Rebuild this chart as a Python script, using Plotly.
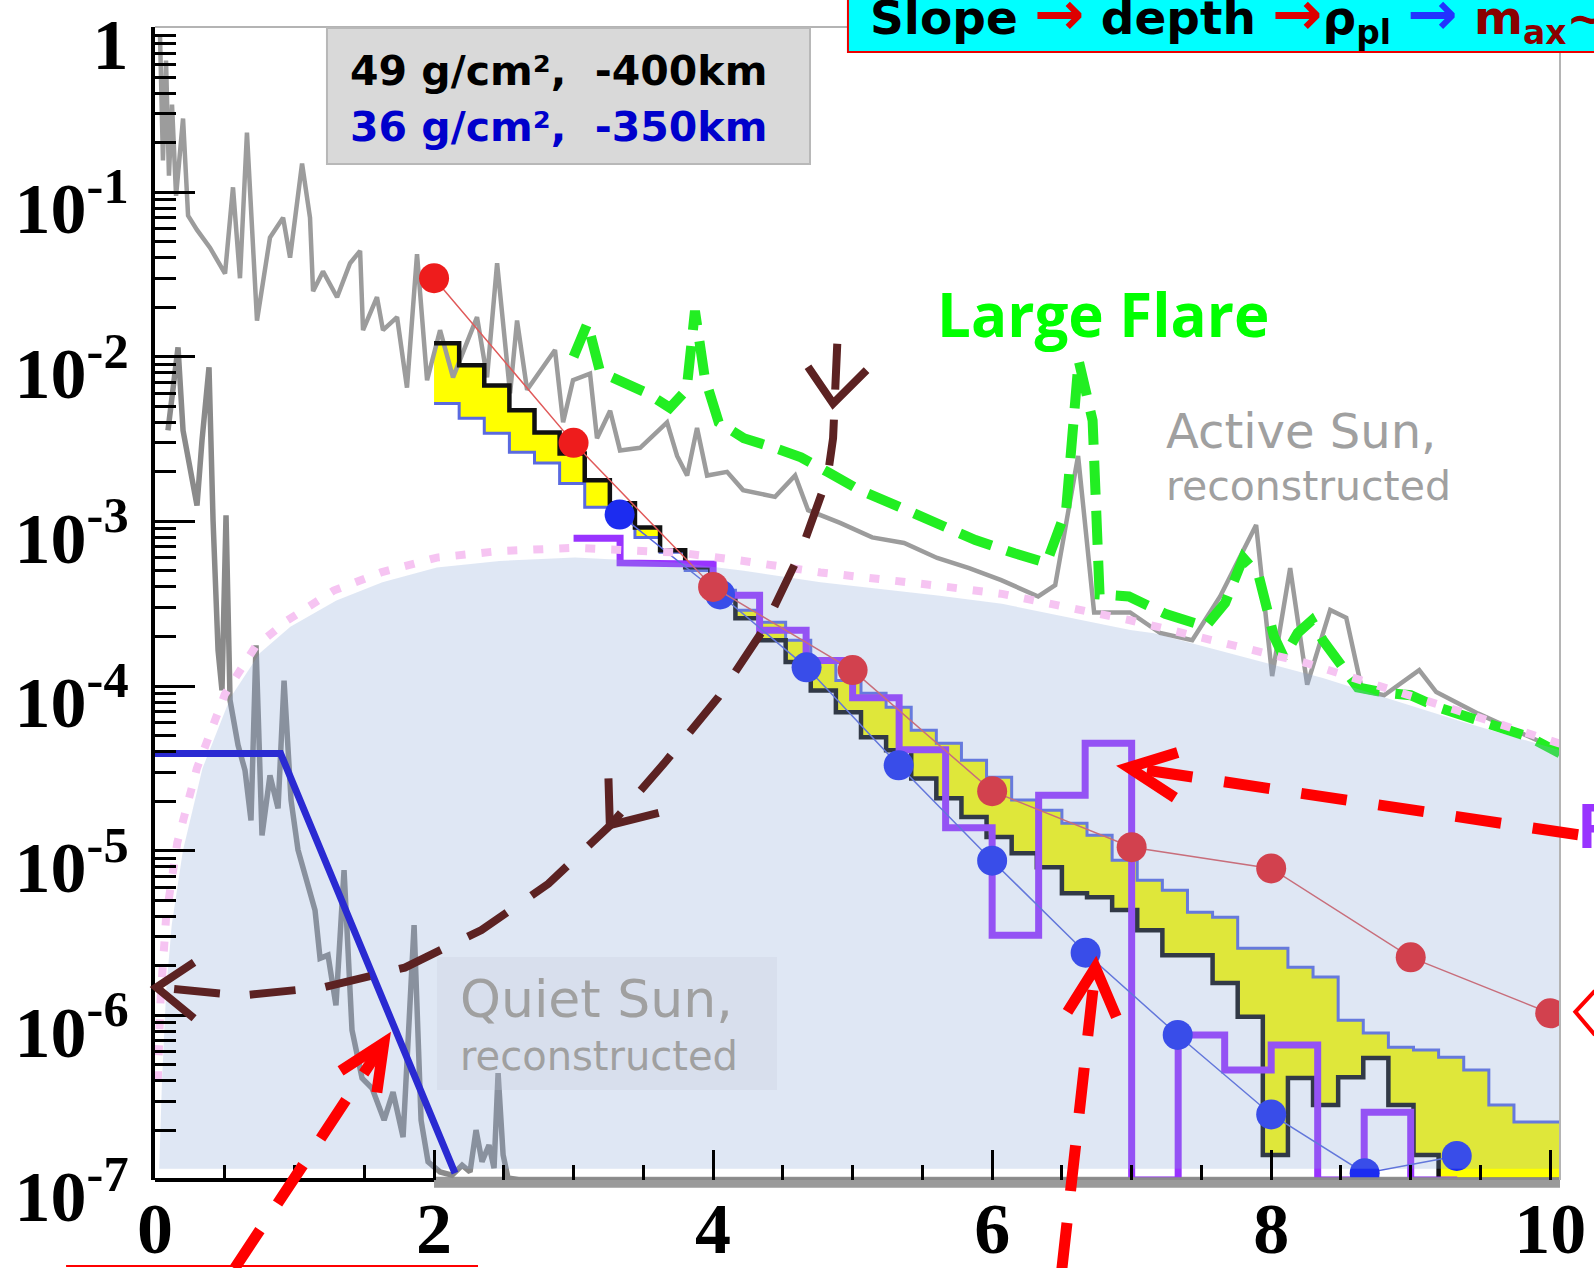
import numpy as np
import plotly.graph_objects as go

# ---------------- axis extents ----------------
X_RANGE = [0.0, 10.07]
Y_RANGE = [-7.0, 0.003]        # log10 of the y range

# ---------------- Active Sun, reconstructed (upper grey spectrum) ----------------
active_x = [0.036, 0.057, 0.079, 0.100, 0.122, 0.151, 0.201, 0.237, 0.301, 0.394,
            0.502, 0.559, 0.609, 0.659, 0.731, 0.824, 0.918, 0.968, 1.054, 1.111,
            1.133, 1.204, 1.305, 1.398, 1.470, 1.491, 1.591, 1.634, 1.735, 1.806,
            1.878, 1.950, 2.043, 2.136, 2.308, 2.380, 2.452, 2.545, 2.595, 2.667,
            2.867, 2.925, 2.996, 3.118, 3.168, 3.262, 3.333, 3.477, 3.670, 3.742,
            3.814, 3.885, 3.957, 4.100, 4.215, 4.444, 4.588, 4.681, 4.910, 5.140,
            5.369, 5.606, 5.835, 6.065, 6.330, 6.452, 6.616, 6.731, 6.989, 7.204,
            7.434, 7.634, 7.892, 8.007, 8.136, 8.258, 8.423, 8.538, 8.652, 8.810,
            9.061, 9.183, 9.484, 9.778, 10.057]
active_y = [0.89, 0.156, 0.63, 0.126, 0.34, 0.095, 0.28, 0.072, 0.059, 0.046,
            0.032, 0.107, 0.030, 0.23, 0.0166, 0.053, 0.070, 0.040, 0.149, 0.070,
            0.025, 0.033, 0.023, 0.037, 0.044, 0.0145, 0.023, 0.0145, 0.0174, 0.0065,
            0.042, 0.0072, 0.0145, 0.0075, 0.0174, 0.0075, 0.037, 0.0060, 0.0166, 0.0063,
            0.011, 0.0040, 0.0072, 0.0079, 0.0032, 0.0047, 0.0027, 0.0028, 0.0040, 0.0025,
            0.0019, 0.0037, 0.0019, 0.0020, 0.00155, 0.00141, 0.0019, 0.00117, 0.00098, 0.00080,
            0.00074, 0.00060, 0.00052, 0.00044, 0.00035, 0.00041, 0.0025, 0.00028, 0.00028, 0.00021,
            0.00019, 0.00035, 0.00095, 0.000115, 0.00052, 0.000102, 0.00029, 0.00026, 9.4e-5, 8.8e-5,
            0.000125, 9.2e-5, 6.8e-5, 5.2e-5, 4.1e-5]

# ---------------- Quiet Sun spectrum (lower grey) ----------------
quiet_x = [0.093, 0.122, 0.165, 0.201, 0.258, 0.301, 0.337, 0.387, 0.416, 0.452,
           0.480, 0.509, 0.538, 0.595, 0.645, 0.688, 0.724, 0.767, 0.824, 0.882,
           0.925, 0.975, 1.025, 1.097, 1.147, 1.183, 1.240, 1.297, 1.355, 1.412,
           1.484, 1.556, 1.642, 1.706, 1.778, 1.857, 1.907, 1.957, 2.043, 2.129,
           2.201, 2.258, 2.301, 2.344, 2.394, 2.430, 2.459, 2.495, 2.530, 2.616, 10.07]
quiet_y = [3.57e-3, 5.83e-3, 1.14e-2, 3.57e-3, 1.91e-3, 1.25e-3, 3.11e-3, 8.63e-3, 1.02e-3, 1.65e-4,
           9.42e-5, 1.09e-3, 8.20e-5, 4.38e-5, 3.08e-5, 1.53e-5, 1.77e-4, 1.24e-5, 2.87e-5, 1.81e-5,
           1.08e-4, 2.03e-5, 1.01e-5, 6.18e-6, 4.35e-6, 2.22e-6, 2.32e-6, 1.15e-6, 7.62e-6, 8.13e-7,
           4.16e-7, 3.61e-7, 2.31e-7, 3.42e-7, 1.82e-7, 3.53e-6, 2.31e-7, 1.29e-7, 1.12e-7, 1.07e-7,
           1.23e-7, 1.12e-7, 2.01e-7, 1.29e-7, 1.63e-7, 1.18e-7, 4.46e-7, 1.42e-7, 1.03e-7, 1.0e-7, 1.0e-7]

# ---------------- Large Flare ----------------
flare_x = [3.00, 3.10, 3.19, 3.33, 3.53, 3.69, 3.81, 3.87, 3.94, 4.04,
           4.22, 4.44, 4.63, 4.82, 5.05, 5.33, 5.61, 5.88, 6.16, 6.39,
           6.53, 6.62, 6.72, 6.77, 6.98, 7.24, 7.53, 7.67, 7.80, 7.91,
           8.02, 8.09, 8.19, 8.29, 8.37, 8.49, 8.62, 8.82, 9.00, 9.20,
           9.41, 9.63, 9.85, 10.07]
flare_y = [1.0e-2, 1.6e-2, 8.1e-3, 7.2e-3, 6.0e-3, 4.9e-3, 6.3e-3, 1.9e-2, 7.5e-3, 4.0e-3,
           3.2e-3, 2.8e-3, 2.45e-3, 2.0e-3, 1.55e-3, 1.23e-3, 9.8e-4, 7.7e-4, 6.4e-4, 5.6e-4,
           1.17e-3, 9.5e-3, 4.1e-3, 3.6e-4, 3.5e-4, 2.75e-4, 2.3e-4, 3.2e-4, 6.0e-4, 4.7e-4,
           2.0e-4, 1.5e-4, 2.1e-4, 2.5e-4, 1.9e-4, 1.35e-4, 9.8e-5, 9.1e-5, 8.8e-5, 7.4e-5,
           6.5e-5, 5.6e-5, 4.9e-5, 3.9e-5]

# ---------------- simulated histograms ----------------
HIST_START, HIST_WIDTH = 2.0, 0.18
hist_49 = [1.21e-2, 8.87e-3, 6.70e-3, 4.73e-3, 3.47e-3, 2.59e-3, 1.78e-3, 1.29e-3, 9.2e-4, 6.68e-4,
           5.26e-4, 3.46e-4, 2.58e-4, 1.90e-4, 1.40e-4, 9.4e-5, 6.93e-5, 4.89e-5, 4.07e-5, 2.75e-5,
           2.08e-5, 1.60e-5, 1.21e-5, 9.65e-6, 7.94e-6, 5.52e-6, 5.22e-6, 4.36e-6, 3.29e-6, 2.32e-6,
           2.32e-6, 1.57e-6, 9.8e-7, 1.42e-7, 4.16e-7, 2.85e-7, 4.21e-7, 5.5e-7, 2.85e-7, 1.42e-7,
           1e-7, 1e-7, 1e-7, 1e-7, 1e-7]
hist_36 = [5.21e-3, 4.23e-3, 3.43e-3, 2.63e-3, 2.26e-3, 1.70e-3, 1.22e-3, 9.88e-4, 8.0e-4, 6.49e-4,
           5.04e-4, 3.82e-4, 2.89e-4, 2.44e-4, 1.90e-4, 1.43e-4, 1.08e-4, 9.04e-5, 7.43e-5, 5.39e-5,
           4.50e-5, 3.54e-5, 2.79e-5, 2.03e-5, 1.76e-5, 1.47e-5, 1.24e-5, 8.75e-6, 6.62e-6, 5.75e-6,
           4.23e-6, 3.95e-6, 2.56e-6, 2.56e-6, 1.96e-6, 1.71e-6, 9.35e-7, 7.80e-7, 6.41e-7, 6.15e-7,
           5.57e-7, 4.65e-7, 2.85e-7, 2.25e-7, 2.25e-7]
PURPLE_START, PURPLE_WIDTH = 3.0, 1.0 / 3.0
hist_purple = [7.9e-4, 5.6e-4, 5.5e-4, 3.56e-4, 2.18e-4, 1.43e-4, 8.5e-5, 4.1e-5, 1.38e-5, 3.07e-6,
               2.17e-5, 4.5e-5, 1e-7, 7.6e-7, 4.65e-7, 6.6e-7, 1e-7, 2.58e-7, 1e-7]

# ---------------- model points ----------------
red_x = [2, 3, 4, 5, 6, 7, 8, 9, 10]
red_y = [3.0e-2, 3.0e-3, 4.0e-4, 1.25e-4, 2.3e-5, 1.05e-5, 7.8e-6, 2.25e-6, 1.03e-6]
blue_x = [3.33, 4.05, 4.67, 5.33, 6.0, 6.67, 7.33, 8.0, 8.67, 9.33]
blue_y = [1.1e-3, 3.6e-4, 1.3e-4, 3.3e-5, 8.7e-6, 2.4e-6, 7.6e-7, 2.5e-7, 1.1e-7, 1.4e-7]

# ---------------- quiet-sun reconstructed envelope ----------------
env_x = [0.03, 0.05, 0.08, 0.12, 0.20, 0.34, 0.54, 0.75, 0.97, 1.30, 1.63, 2.02, 2.47,
         3.01, 3.76, 4.22, 4.77, 5.61, 6.07, 6.99, 7.16, 8.25, 8.37, 9.34, 10.07]
env_y = [1.17e-7, 3.98e-7, 1.41e-6, 3.55e-6, 1.0e-5, 3.16e-5, 8.5e-5, 1.58e-4, 2.29e-4, 3.31e-4,
         4.27e-4, 5.25e-4, 5.75e-4, 6.03e-4, 5.62e-4, 5.01e-4, 4.27e-4, 3.55e-4, 3.16e-4, 2.19e-4,
         2.09e-4, 1.20e-4, 1.12e-4, 6.17e-5, 4.07e-5]
ENV_FLOOR = 1.17e-7
edge_x = [0.02, 0.04, 0.08, 0.16, 0.30, 0.50, 0.72, 0.95, 1.28, 1.62, 2.02, 2.47, 3.01,
          3.76, 4.22, 4.77, 5.61, 6.07, 6.99, 8.25, 9.34, 10.07]
edge_y = [3.98e-7, 1.26e-6, 3.98e-6, 1.12e-5, 3.16e-5, 8.9e-5, 1.74e-4, 2.51e-4, 3.80e-4, 4.90e-4,
          6.03e-4, 6.61e-4, 6.92e-4, 6.46e-4, 5.75e-4, 4.90e-4, 4.07e-4, 3.63e-4, 2.51e-4, 1.38e-4,
          7.08e-5, 4.47e-5]

# ---------------- cutoff model (blue) ----------------
cut_x = [0.0, 0.9, 2.15]
cut_y = [3.9e-5, 3.9e-5, 1.1e-7]

# ---------------- arrows ----------------
depth_x = [4.89, 4.86, 4.82, 4.63, 4.36, 4.04, 3.65, 3.26, 2.82, 2.34, 1.79, 1.21, 0.62, 0.01]
depth_y = [1.2e-2, 3.2e-3, 1.85e-3, 6.6e-4, 2.2e-4, 8.6e-5, 3.4e-5, 1.42e-5, 6.3e-6, 3.3e-6,
           1.95e-6, 1.48e-6, 1.32e-6, 1.48e-6]
depth_heads = [
    ([4.68, 4.86, 5.10], [8.7e-3, 5.2e-3, 8.3e-3]),
    ([3.25, 3.26, 3.61], [2.75e-5, 1.43e-5, 1.7e-5]),
    ([0.28, 0.01, 0.28], [2.1e-6, 1.48e-6, 9.6e-7]),
]
red_arrows = [
    # (shaft x, shaft y, head x, head y)
    ([0.57, 1.64], [2.9e-8, 6.8e-7], [1.33, 1.64, 1.59], [4.6e-7, 6.8e-7, 3.4e-7]),
    ([6.50, 6.74], [2.9e-8, 1.95e-6], [6.54, 6.74, 6.89], [1.05e-6, 1.95e-6, 9.8e-7]),
    ([10.2, 6.98], [1.25e-5, 3.2e-5], [7.33, 6.98, 7.31], [3.95e-5, 3.2e-5, 2.1e-5]),
]
tip_x, tip_y = [10.32, 10.18, 10.32], [1.41e-6, 1.05e-6, 7.6e-7]


def steps(x0, width, vals):
    xs, ys = [], []
    for i, v in enumerate(vals):
        xs += [x0 + i * width, x0 + (i + 1) * width]
        ys += [v, v]
    return xs, ys


def to_paper(x, v):
    px = (x - X_RANGE[0]) / (X_RANGE[1] - X_RANGE[0])
    py = (np.log10(v) - Y_RANGE[0]) / (Y_RANGE[1] - Y_RANGE[0])
    return px, py


def path_of(xs, ys):
    pts = [to_paper(a, b) for a, b in zip(xs, ys)]
    return "M " + " L ".join(f"{a:.5f},{b:.5f}" for a, b in pts)


fig = go.Figure()
line_kw = dict(mode="lines", hoverinfo="skip", showlegend=False)

# yellow band between the two depth histograms
bx, by = steps(HIST_START, HIST_WIDTH, hist_49)
cx, cy = steps(HIST_START, HIST_WIDTH, hist_36)
fig.add_trace(go.Scatter(x=bx + cx[::-1], y=by + cy[::-1], fill="toself",
                         fillcolor="#ffff00", line=dict(width=0), **line_kw))

# grey active-sun spectrum and the flare
fig.add_trace(go.Scatter(x=active_x, y=active_y, line=dict(color="#9c9c9c", width=4.5), **line_kw))
fig.add_trace(go.Scatter(x=flare_x, y=flare_y,
                         line=dict(color="#22ee22", width=10, dash="34px,16px"), **line_kw))

# histograms
fig.add_trace(go.Scatter(x=cx, y=cy, line=dict(color="#5a6ae0", width=3), **line_kw))
fig.add_trace(go.Scatter(x=bx, y=by, line=dict(color="#111111", width=4.5), **line_kw))
px_, py_ = steps(PURPLE_START, PURPLE_WIDTH, hist_purple)
fig.add_trace(go.Scatter(x=px_, y=py_, line=dict(color="#9933ff", width=7), **line_kw))

# model points
fig.add_trace(go.Scatter(x=blue_x, y=blue_y, mode="lines+markers", hoverinfo="skip", showlegend=False,
                         line=dict(color="#5566dd", width=1.5),
                         marker=dict(color="#1c2cf0", size=30)))
fig.add_trace(go.Scatter(x=red_x, y=red_y, mode="lines+markers", hoverinfo="skip", showlegend=False,
                         line=dict(color="#e05a5a", width=1.5),
                         marker=dict(color="#ee1c1c", size=30)))

# quiet-sun spectrum
fig.add_trace(go.Scatter(x=quiet_x, y=quiet_y, line=dict(color="#8a8a8a", width=5.5), **line_kw))

# translucent quiet-sun envelope laid over everything drawn so far
fig.add_trace(go.Scatter(x=env_x + [env_x[-1], env_x[0]], y=env_y + [ENV_FLOOR, ENV_FLOOR],
                         fill="toself", fillcolor="rgba(137,167,215,0.27)",
                         line=dict(width=0), **line_kw))
fig.add_trace(go.Scatter(x=edge_x, y=edge_y,
                         line=dict(color="#f6c4f2", width=8, dash="10px,16px"), **line_kw))

# cutoff model
fig.add_trace(go.Scatter(x=cut_x, y=cut_y, line=dict(color="#2a2ad2", width=7), **line_kw))

shapes = []
# frame: black bottom start, grey remainder, grey top/right
x2 = (2.0 - X_RANGE[0]) / (X_RANGE[1] - X_RANGE[0])
shapes.append(dict(type="line", xref="paper", yref="paper", x0=0, x1=x2, y0=0, y1=0,
                   line=dict(color="black", width=4), layer="below"))
shapes.append(dict(type="line", xref="paper", yref="paper", x0=x2, x1=1, y0=-0.002, y1=-0.002,
                   line=dict(color="#9a9a9a", width=11), layer="below"))
shapes.append(dict(type="line", xref="paper", yref="paper", x0=0, x1=1, y0=1.0, y1=1.0,
                   line=dict(color="#b4b4b4", width=2)))
shapes.append(dict(type="line", xref="paper", yref="paper", x0=1, x1=1, y0=0, y1=1.0,
                   line=dict(color="#b4b4b4", width=2)))

# depth -> slope arrow
shapes.append(dict(type="path", xref="paper", yref="paper", path=path_of(depth_x, depth_y),
                   line=dict(color="#5c2222", width=8, dash="46px,30px"), fillcolor="rgba(0,0,0,0)"))
for hx, hy in depth_heads:
    shapes.append(dict(type="path", xref="paper", yref="paper", path=path_of(hx, hy),
                       line=dict(color="#5c2222", width=8), fillcolor="rgba(0,0,0,0)"))

# red pointers
for sx, sy, hx, hy in red_arrows:
    shapes.append(dict(type="path", xref="paper", yref="paper", path=path_of(sx, sy),
                       line=dict(color="#ff0000", width=11, dash="46px,32px"), fillcolor="rgba(0,0,0,0)"))
    shapes.append(dict(type="path", xref="paper", yref="paper", path=path_of(hx, hy),
                       line=dict(color="#ff0000", width=11), fillcolor="rgba(0,0,0,0)"))
shapes.append(dict(type="path", xref="paper", yref="paper", path=path_of(tip_x, tip_y),
                   line=dict(color="#ff0000", width=4), fillcolor="rgba(0,0,0,0)"))
shapes.append(dict(type="line", xref="paper", yref="paper", x0=-0.0633, x1=0.2299, y0=-0.0746, y1=-0.0746,
                   line=dict(color="#ff0000", width=2)))

# label boxes
shapes.append(dict(type="rect", xref="paper", yref="paper", x0=0.1224, x1=0.4662, y0=0.8812, y1=0.9991,
                   fillcolor="#d9d9d9", line=dict(color="#b8b8b8", width=2)))
shapes.append(dict(type="rect", xref="paper", yref="paper", x0=0.4932, x1=1.2, y0=0.9783, y1=1.2,
                   fillcolor="#00ffff", line=dict(color="#ee0000", width=2)))
shapes.append(dict(type="rect", xref="paper", yref="paper", x0=0.7004, x1=0.9388, y0=0.5828, y1=0.6843,
                   fillcolor="rgba(255,255,255,0.9)", line=dict(width=0)))
shapes.append(dict(type="rect", xref="paper", yref="paper", x0=0.2007, x1=0.4427, y0=0.0781, y1=0.1934,
                   fillcolor="rgba(190,198,212,0.22)", line=dict(width=0)))

comic = "DejaVu Sans"
nb = "\u00a0"
arrow = "<span style='font-size:60px'>→</span>"
annotations = [
    dict(xref="paper", yref="paper", x=0.1374, y=0.9618, xanchor="left", yanchor="middle",
         text=f"49{nb}g/cm²,{nb}{nb}-400km", showarrow=False,
         font=dict(family=comic, size=41, color="black", weight="bold")),
    dict(xref="paper", yref="paper", x=0.1374, y=0.9133, xanchor="left", yanchor="middle",
         text=f"36{nb}g/cm²,{nb}{nb}-350km", showarrow=False,
         font=dict(family=comic, size=41, color="#0000cc", weight="bold")),
    dict(xref="paper", yref="paper", x=0.5075, y=1.0104, xanchor="left", yanchor="middle",
         text=(f"Slope{nb}<span style='color:#dd0000'>{arrow}</span>{nb}depth{nb}"
               f"<span style='color:#dd0000'>{arrow}</span>ρ<sub>pl</sub>{nb}"
               f"<span style='color:#2233ff'>{arrow}</span>{nb}"
               f"<span style='color:#8b0000'>m<sub>ax</sub>~</span>"),
         showarrow=False, font=dict(family=comic, size=47, color="black", weight="bold")),
    dict(xref="x", yref="y", x=6.80, y=-1.743, xanchor="center", yanchor="middle",
         text="Large Flare", showarrow=False,
         font=dict(family="Open Sans", size=60, color="#00ff00", weight="bold")),
    dict(xref="x", yref="y", x=7.23, y=-2.45, xanchor="left", yanchor="middle",
         text="Active Sun,", showarrow=False, font=dict(family=comic, size=48, color="#a0a0a0")),
    dict(xref="x", yref="y", x=7.23, y=-2.787, xanchor="left", yanchor="middle",
         text="reconstructed", showarrow=False, font=dict(family=comic, size=41, color="#a0a0a0")),
    dict(xref="x", yref="y", x=2.172, y=-5.902, xanchor="left", yanchor="middle",
         text="Quiet Sun,", showarrow=False, font=dict(family=comic, size=52, color="#a0a0a0")),
    dict(xref="x", yref="y", x=2.172, y=-6.248, xanchor="left", yanchor="middle",
         text="reconstructed", showarrow=False, font=dict(family=comic, size=40, color="#a0a0a0")),
    dict(xref="paper", yref="paper", x=1.0107, y=0.3079, xanchor="left", yanchor="middle",
         text="P", showarrow=False, font=dict(family="Open Sans", size=60, color="#9933ff", weight="bold")),
]

y_major = [1e0, 1e-1, 1e-2, 1e-3, 1e-4, 1e-5, 1e-6, 1e-7]
y_text = ["1"] + [f"10<sup>-{k}</sup>" for k in range(1, 8)]
y_minor = [m * 10.0 ** k for k in range(-7, 0) for m in range(2, 10)]
tick_font = dict(family="Liberation Serif", size=72, color="black", weight="bold")

fig.update_layout(
    width=1594, height=1268, autosize=False,
    margin=dict(l=155, r=34, t=27, b=88),
    paper_bgcolor="white", plot_bgcolor="rgba(0,0,0,0)",
    showlegend=False,
    shapes=shapes, annotations=annotations,
    xaxis=dict(range=X_RANGE, showgrid=False, zeroline=False, showline=False, automargin=False,
               tickmode="array", tickvals=[0, 2, 4, 6, 8, 10], ticktext=["0", "2", "4", "6", "8", "10"],
               ticks="inside", ticklen=30, tickwidth=3, tickcolor="black",
               minor=dict(tickmode="linear", tick0=0, dtick=0.5, ticks="inside", ticklen=15,
                          tickwidth=3, tickcolor="black", showgrid=False),
               tickfont=tick_font, ticklabelstandoff=0),
    yaxis=dict(type="log", range=Y_RANGE, showgrid=False, zeroline=False, automargin=False,
               showline=True, linecolor="black", linewidth=4,
               tickmode="array", tickvals=y_major, ticktext=y_text,
               ticks="inside", ticklen=40, tickwidth=3, tickcolor="black",
               minor=dict(tickmode="array", tickvals=y_minor, ticks="inside", ticklen=21,
                          tickwidth=3, tickcolor="black", showgrid=False),
               tickfont=tick_font, ticklabelstandoff=8, ticklabelshift=16),
)

fig.write_html("out.html")
